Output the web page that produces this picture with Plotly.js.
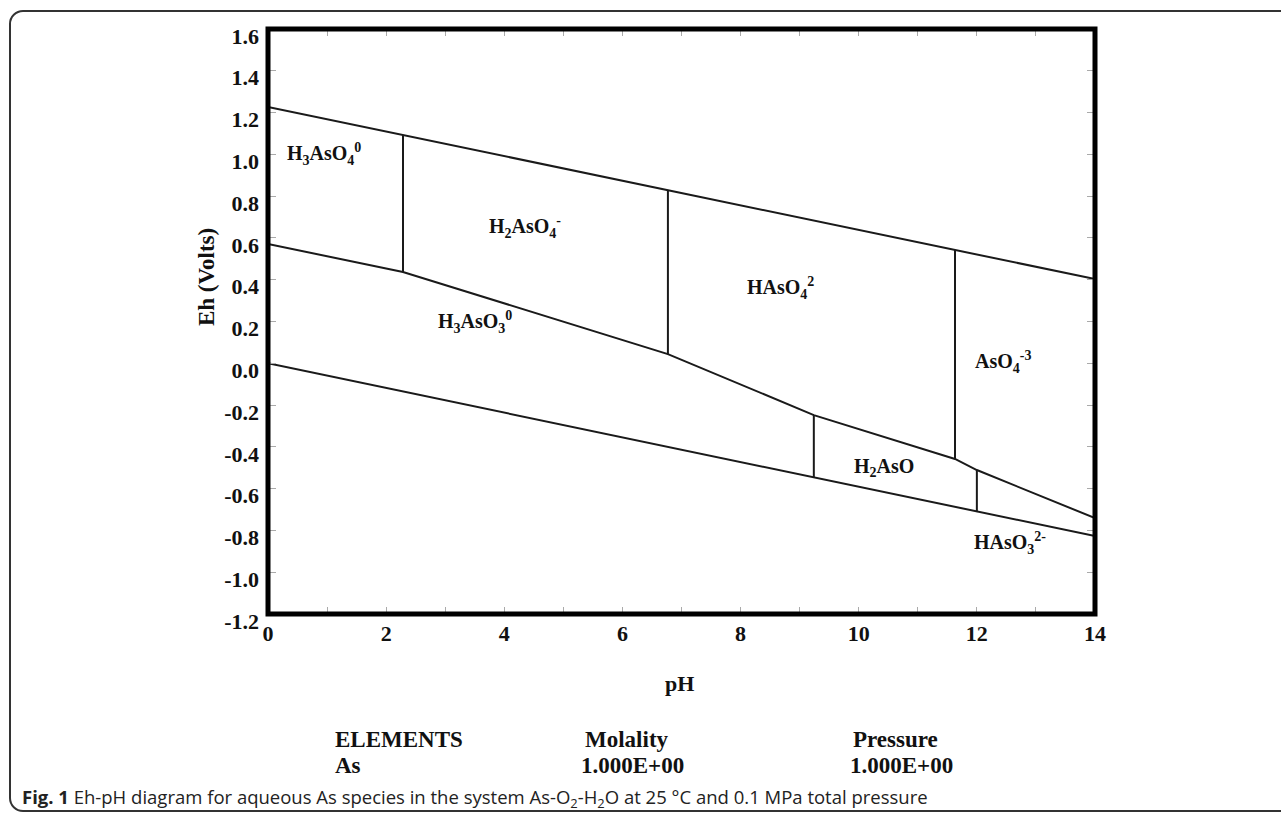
<!DOCTYPE html>
<html>
<head>
<meta charset="utf-8">
<script src="https://cdn.plot.ly/plotly-3.0.1.min.js"></script>
<style>
  html, body { margin: 0; padding: 0; background: #fff; overflow: hidden; }
  #frame { position: absolute; left: 9px; top: 10px; width: 1400px; height: 802px;
           border: 2px solid #333; border-radius: 14px; box-sizing: border-box; }
  #chart { position: absolute; left: 0; top: 0; width: 1281px; height: 816px; }
</style>
</head>
<body>
<div id="frame"></div>
<div id="chart"></div>
<script>
// ---- data ----
const waterUpperPH = [0, 14];
const waterUpperEh = [1.227, 0.403];
const waterLowerPH = [0, 14];
const waterLowerEh = [0, -0.827];
// As(V) / As(III) redox boundary
const redoxPH = [0, 2.285, 6.77, 9.24, 11.63, 12.0, 14];
const redoxEh = [0.571, 0.437, 0.044, -0.248, -0.458, -0.511, -0.741];
// vertical acid-base boundaries: pH, Eh bottom, Eh top
const vertPH = [2.285, 6.77, 11.63, 9.24, 12.0];
const vertEhLow = [0.437, 0.044, -0.458, -0.549, -0.712];
const vertEhHigh = [1.093, 0.829, 0.542, -0.248, -0.511];
// species labels
const speciesNames = [
  'H<sub>3</sub>AsO<sub>4</sub><sup>0</sup>',
  'H<sub>2</sub>AsO<sub>4</sub><sup>-</sup>',
  'HAsO<sub>4</sub><sup>2</sup>',
  'H<sub>3</sub>AsO<sub>3</sub><sup>0</sup>',
  'AsO<sub>4</sub><sup>-3</sup>',
  'H<sub>2</sub>AsO',
  'HAsO<sub>3</sub><sup>2-</sup>'
];
const speciesPH = [0.95, 4.35, 8.67, 3.5, 12.44, 10.43, 12.56];
const speciesEh = [1.002, 0.652, 0.36, 0.197, 0.006, -0.497, -0.86];
// axis ticks
const xTickVals = [0, 2, 4, 6, 8, 10, 12, 14];
const xTickText = ['0', '2', '4', '6', '8', '10', '12', '14'];
const yTickVals = [1.6, 1.4, 1.2, 1.0, 0.8, 0.6, 0.4, 0.2, 0.0, -0.2, -0.4, -0.6, -0.8, -1.0, -1.2];
const yTickText = ['1.6', '1.4', '1.2', '1.0', '0.8', '0.6', '0.4', '0.2', '0.0', '-0.2', '-0.4', '-0.6', '-0.8', '-1.0', '-1.2'];
// footer table
const footerHeaders = ['ELEMENTS', 'Molality', 'Pressure'];
const footerValues = ['As', '1.000E+00', '1.000E+00'];

// ---- drawing ----
const lineStyle = { color: '#1a1a1a', width: 2 };
const traces = [];
traces.push({ x: waterUpperPH, y: waterUpperEh, mode: 'lines', line: lineStyle, hoverinfo: 'skip' });
traces.push({ x: waterLowerPH, y: waterLowerEh, mode: 'lines', line: lineStyle, hoverinfo: 'skip' });
traces.push({ x: redoxPH, y: redoxEh, mode: 'lines', line: lineStyle, hoverinfo: 'skip' });
for (let i = 0; i < vertPH.length; i++) {
  traces.push({ x: [vertPH[i], vertPH[i]], y: [vertEhLow[i], vertEhHigh[i]], mode: 'lines', line: lineStyle, hoverinfo: 'skip' });
}

const serif = 'Liberation Serif, Times New Roman, serif';
const annotations = [];
for (let i = 0; i < speciesNames.length; i++) {
  annotations.push({ x: speciesPH[i], y: speciesEh[i], xref: 'x', yref: 'y', text: speciesNames[i],
    xanchor: 'center', yanchor: 'middle',
    showarrow: false, font: { family: serif, size: 20, color: '#111', weight: 'bold' } });
}
annotations.push({ x: 0.498, y: -0.118, xref: 'paper', yref: 'paper', text: 'pH', showarrow: false,
  xanchor: 'center', yanchor: 'middle',
  font: { family: serif, size: 22, color: '#111', weight: 'bold' } });
annotations.push({ x: -0.075, y: 0.576, xref: 'paper', yref: 'paper', text: 'Eh (Volts)', showarrow: false,
  xanchor: 'center', yanchor: 'middle',
  textangle: -90, font: { family: serif, size: 23, color: '#111', weight: 'bold' } });
const footerX = [0.0786, 0.434, 0.759];
const footerAnchor = ['left', 'center', 'center'];
for (let i = 0; i < footerHeaders.length; i++) {
  annotations.push({ x: footerX[i], y: -0.2137, xref: 'paper', yref: 'paper', text: footerHeaders[i],
    xanchor: footerAnchor[i], yanchor: 'middle', showarrow: false,
    font: { family: serif, size: 23, color: '#111', weight: 'bold' } });
  annotations.push({ x: footerX[i] + (i === 0 ? 0 : 0.007), y: -0.2598, xref: 'paper', yref: 'paper', text: footerValues[i],
    xanchor: footerAnchor[i], yanchor: 'middle', showarrow: false,
    font: { family: serif, size: 23, color: '#111', weight: 'bold' } });
}
annotations.push({ x: -0.2993, y: -0.3145, xref: 'paper', yref: 'paper', xanchor: 'left', yanchor: 'middle',
  text: '<b>Fig. 1</b> Eh-pH diagram for aqueous As species in the system As-O<sub>2</sub>-H<sub>2</sub>O at 25 °C and 0.1 MPa total pressure',
  showarrow: false, font: { family: 'Open Sans, Noto Sans, sans-serif', size: 18.5, color: '#222' } });

const layout = {
  width: 1281, height: 816,
  margin: { l: 268, r: 186, t: 29, b: 202 },
  paper_bgcolor: 'rgba(0,0,0,0)', plot_bgcolor: 'rgba(0,0,0,0)',
  showlegend: false,
  xaxis: {
    range: [0, 14], showgrid: false, zeroline: false, showline: false,
    tickmode: 'array', tickvals: xTickVals, ticktext: xTickText,
    ticks: 'inside', ticklen: 7, tickcolor: '#aaa', tickwidth: 1, mirror: 'allticks',
    minor: { tickmode: 'linear', tick0: 0, dtick: 1, ticks: 'inside', ticklen: 7, tickcolor: '#aaa', tickwidth: 1 },
    tickfont: { family: serif, size: 22, color: '#111', weight: 'bold' },
    ticklabelstandoff: 4
  },
  yaxis: {
    range: [-1.2, 1.6], showgrid: false, zeroline: false, showline: false,
    tickmode: 'array', tickvals: yTickVals, ticktext: yTickText,
    ticks: 'inside', ticklen: 8, tickcolor: '#aaa', tickwidth: 1, mirror: 'allticks',
    tickfont: { family: serif, size: 22, color: '#111', weight: 'bold' },
    ticklabelshift: 7, ticklabelstandoff: 8
  },
  shapes: [
    { type: 'rect', xref: 'paper', yref: 'paper', x0: 0, x1: 1, y0: 0, y1: 1,
      line: { color: '#000', width: 5 }, fillcolor: 'rgba(0,0,0,0)', layer: 'above' }
  ],
  annotations: annotations
};

Plotly.newPlot('chart', traces, layout, { displayModeBar: false, staticPlot: true });
</script>
</body>
</html>
